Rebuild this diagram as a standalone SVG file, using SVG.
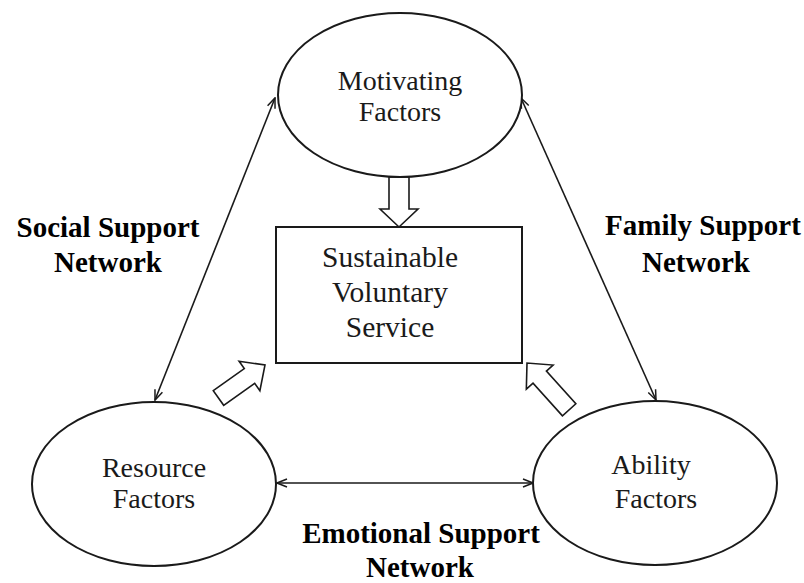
<svg xmlns="http://www.w3.org/2000/svg" width="804" height="583" viewBox="0 0 804 583">
  <style>
    .node { fill: #ffffff; stroke: #1a1a1a; stroke-width: 2; }
    .lbl { font-family: "Liberation Serif", "Times New Roman", serif; font-size: 28px; fill: #1a1a1a; text-anchor: middle; }
    .center { font-size: 29.5px; }
    .net { font-family: "Liberation Serif", "Times New Roman", serif; font-size: 29px; font-weight: bold; fill: #000000; text-anchor: middle; }
    .link { stroke: #1a1a1a; stroke-width: 1.6; fill: none; marker-start: url(#open); marker-end: url(#open); }
    .block { fill: #ffffff; stroke: #1a1a1a; stroke-width: 1.6; stroke-linejoin: miter; }
  </style>
  <defs>
    <marker id="open" viewBox="0 0 12 10" refX="11" refY="5" markerWidth="12" markerHeight="10" markerUnits="userSpaceOnUse" orient="auto-start-reverse">
      <path d="M1,1 L11,5 L1,9" fill="none" stroke="#1a1a1a" stroke-width="1.5"/>
    </marker>
    <!-- block arrow pointing along +x with its tip at the origin -->
    <polygon id="blk50" points="-50,-10 -18,-10 -18,-19 0,0 -18,19 -18,10 -50,10"/>
    <polygon id="blk57" points="-57,-9 -19,-9 -19,-18 0,0 -19,18 -19,9 -57,9"/>
    <polygon id="blk63" points="-63,-9 -19,-9 -19,-18 0,0 -19,18 -19,9 -63,9"/>
  </defs>

  <rect width="804" height="583" fill="#ffffff"/>

  <g id="connectors">
    <line class="link" x1="275" y1="98" x2="155" y2="400"/>
    <line class="link" x1="521" y1="98" x2="656" y2="400"/>
    <line class="link" x1="277" y1="483" x2="533" y2="483"/>
    <use href="#blk50" class="block" transform="translate(399,227) rotate(90)"/>
    <use href="#blk57" class="block" transform="translate(265,365) rotate(-35.3)"/>
    <use href="#blk63" class="block" transform="translate(527,363) rotate(-132)"/>
  </g>

  <g id="motivating">
    <ellipse class="node" cx="400" cy="95" rx="122" ry="82"/>
    <text class="lbl" x="400" y="90">Motivating</text>
    <text class="lbl" x="400" y="121">Factors</text>
  </g>

  <g id="service">
    <rect class="node" x="276" y="227" width="246" height="136"/>
    <text class="lbl center" x="390" y="267">Sustainable</text>
    <text class="lbl center" x="390" y="302">Voluntary</text>
    <text class="lbl center" x="390" y="337">Service</text>
  </g>

  <g id="resource">
    <ellipse class="node" cx="154" cy="484" rx="122" ry="82"/>
    <text class="lbl" x="154" y="477">Resource</text>
    <text class="lbl" x="154" y="508">Factors</text>
  </g>

  <g id="ability">
    <ellipse class="node" cx="655" cy="483" rx="122" ry="82"/>
    <text class="lbl" x="651" y="474">Ability</text>
    <text class="lbl" x="656" y="508">Factors</text>
  </g>

  <g id="labels">
    <text class="net" x="108" y="237">Social Support</text>
    <text class="net" x="108" y="272">Network</text>
    <text class="net" x="703" y="235">Family Support</text>
    <text class="net" x="696" y="272">Network</text>
    <text class="net" x="421" y="543">Emotional Support</text>
    <text class="net" x="420" y="577">Network</text>
  </g>
</svg>
